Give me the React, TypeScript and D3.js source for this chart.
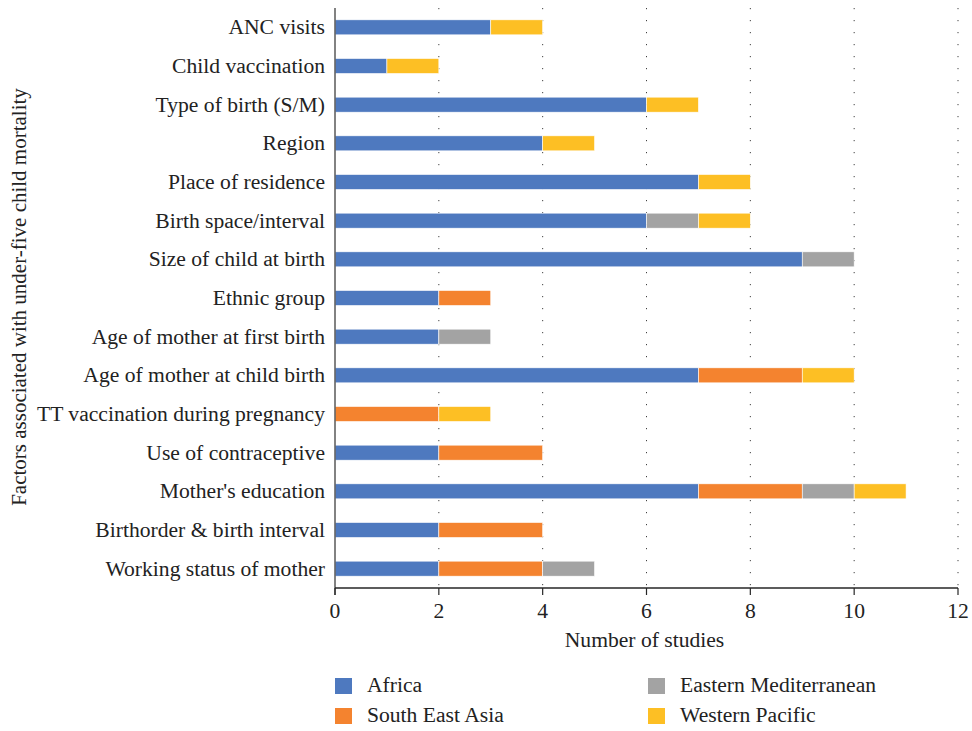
import React from "react";
import * as d3 from "d3";

const categories = [
  "ANC visits",
  "Child vaccination",
  "Type of birth (S/M)",
  "Region",
  "Place of residence",
  "Birth space/interval",
  "Size of child at birth",
  "Ethnic group",
  "Age of mother at first birth",
  "Age of mother at child birth",
  "TT vaccination during pregnancy",
  "Use of contraceptive",
  "Mother's education",
  "Birthorder & birth interval",
  "Working status of mother",
];

const seriesNames = ["Africa", "South East Asia", "Eastern Mediterranean", "Western Pacific"];
const africa = [3, 1, 6, 4, 7, 6, 9, 2, 2, 7, 0, 2, 7, 2, 2];
const southEastAsia = [0, 0, 0, 0, 0, 0, 0, 1, 0, 2, 2, 2, 2, 2, 2];
const easternMediterranean = [0, 0, 0, 0, 0, 1, 1, 0, 1, 0, 0, 0, 1, 0, 1];
const westernPacific = [1, 1, 1, 1, 1, 1, 0, 0, 0, 1, 1, 0, 1, 0, 0];
const xTicks = [0, 2, 4, 6, 8, 10, 12];
const colors = ["#4E79BF", "#F4832F", "#A3A3A3", "#FDBF24"];

const FONT = "'Liberation Serif', 'Times New Roman', serif";
const FS = 21.6;

export default function App() {
  const W = 972;
  const H = 731;
  const x0 = 335;
  const x1 = 958;
  const yTop = 8;
  const yBot = 588;

  const x = d3.scaleLinear().domain([0, 12]).range([x0, x1]);
  const y = d3
    .scaleBand<string>()
    .domain(categories)
    .range([yTop, yBot])
    .paddingInner(0.612)
    .paddingOuter(0.306);

  const rows = categories.map((c, i) => ({
    cat: c,
    Africa: africa[i],
    "South East Asia": southEastAsia[i],
    "Eastern Mediterranean": easternMediterranean[i],
    "Western Pacific": westernPacific[i],
  }));
  const stack = d3.stack<any>().keys(seriesNames)(rows);

  const legend = [
    { name: seriesNames[0], lx: 335, ly: 678 },
    { name: seriesNames[1], lx: 335, ly: 708 },
    { name: seriesNames[2], lx: 648, ly: 678 },
    { name: seriesNames[3], lx: 648, ly: 708 },
  ];

  return (
    <svg
      width={W}
      height={H}
      style={{ position: "absolute", left: 0, top: 0, background: "#fff" }}
      fontFamily={FONT}
    >
      <rect x={0} y={0} width={W} height={H} fill="#fff" />
      {/* gridlines */}
      {xTicks.slice(1).map((t) => (
        <line
          key={"g" + t}
          x1={x(t)}
          x2={x(t)}
          y1={yTop}
          y2={yBot}
          stroke="#404040"
          strokeWidth={1}
          strokeDasharray="1.2,10.8"
        />
      ))}
      {/* bars */}
      {stack.map((s, si) =>
        s.map((d, i) =>
          d[1] - d[0] > 0 ? (
            <rect
              key={si + "-" + i}
              x={x(d[0])}
              width={x(d[1]) - x(d[0])}
              y={y(categories[i])!}
              height={y.bandwidth()}
              fill={colors[si]}
              stroke="#fff"
              strokeWidth={0.6}
            />
          ) : null
        )
      )}
      {/* axes */}
      <line x1={x0} x2={x0} y1={yTop} y2={yBot + 7} stroke="#595959" strokeWidth={1.5} />
      <line x1={x0} x2={x1} y1={yBot} y2={yBot} stroke="#262626" strokeWidth={1.5} />
      {xTicks.map((t) => (
        <g key={"t" + t}>
          <line x1={x(t)} x2={x(t)} y1={yBot} y2={yBot + 7} stroke="#262626" strokeWidth={1.2} />
          <text x={x(t)} y={618} textAnchor="middle" fontSize={FS} fill="#222">
            {t}
          </text>
        </g>
      ))}
      {categories.map((c) => (
        <text
          key={"l" + c}
          x={325}
          y={y(c)! + y.bandwidth() / 2}
          dy="0.33em"
          textAnchor="end"
          fontSize={FS}
          fill="#222"
        >
          {c}
        </text>
      ))}
      <text x={(x0 + x1) / 2 - 2} y={647} textAnchor="middle" fontSize={FS} fill="#222">
        Number of studies
      </text>
      <text
        transform={`translate(26, 297) rotate(-90)`}
        textAnchor="middle"
        fontSize={21}
        fill="#222"
      >
        Factors associated with under-five child mortality
      </text>
      {/* legend */}
      {legend.map((l, i) => (
        <g key={"lg" + i}>
          <rect x={l.lx} y={l.ly} width={17} height={16} fill={colors[i]} />
          <text x={l.lx + 32} y={l.ly + 14} fontSize={FS} fill="#222">
            {l.name}
          </text>
        </g>
      ))}
    </svg>
  );
}
